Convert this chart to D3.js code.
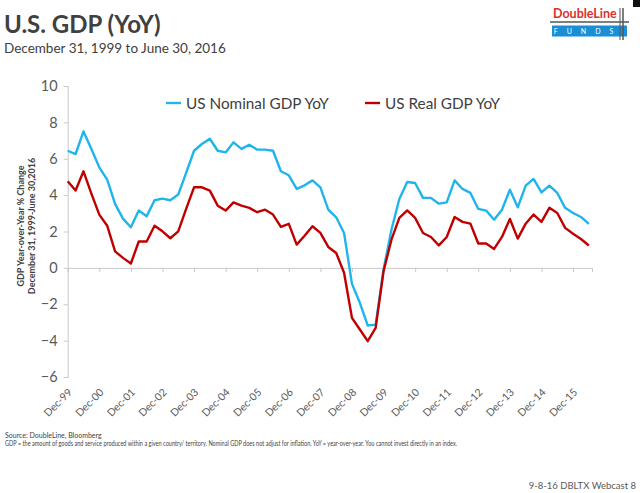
<!DOCTYPE html>
<html><head><meta charset="utf-8">
<script src="https://cdn.jsdelivr.net/npm/d3@7/dist/d3.min.js"></script>
<style>body{margin:0;background:#fff}svg{display:block}</style>
</head><body><svg id="c" width="640" height="493"></svg>
<script>
const yearLabels = ["Dec-99","Dec-00","Dec-01","Dec-02","Dec-03","Dec-04","Dec-05","Dec-06","Dec-07","Dec-08","Dec-09","Dec-10","Dec-11","Dec-12","Dec-13","Dec-14","Dec-15"];
const yTicks = [-6,-4,-2,0,2,4,6,8,10];
// quarterly, Dec-1999 .. Jun-2016
const nominal = [6.44,6.26,7.50,6.54,5.53,4.85,3.52,2.71,2.23,3.15,2.84,3.72,3.81,3.72,4.03,5.22,
  6.44,6.81,7.10,6.44,6.35,6.90,6.54,6.77,6.50,6.50,6.44,5.31,5.09,4.34,4.54,4.81,4.43,3.20,2.78,1.92,
  -0.88,-1.92,-3.17,-3.12,-0.09,2.10,3.79,4.72,4.67,3.85,3.85,3.53,3.60,4.81,4.34,4.12,3.24,3.15,2.65,3.20,
  4.30,3.33,4.52,4.89,4.15,4.52,4.12,3.30,3.02,2.80,2.42];
const real = [4.76,4.25,5.31,4.08,2.93,2.32,0.91,0.55,0.24,1.45,1.45,2.32,2.01,1.63,2.01,3.24,
  4.43,4.43,4.25,3.42,3.15,3.60,3.42,3.30,3.06,3.20,2.93,2.25,2.42,1.28,1.77,2.29,1.92,1.15,0.82,-0.27,
  -2.75,-3.39,-4.03,-3.30,-0.19,1.55,2.75,3.16,2.75,1.92,1.70,1.24,1.70,2.80,2.53,2.43,1.34,1.34,1.04,1.70,
  2.69,1.61,2.43,2.93,2.53,3.30,3.02,2.20,1.88,1.59,1.23];
const seriesNames = ["US Nominal GDP YoY","US Real GDP YoY"];
const colors = ["#1fb4ec","#c00000"];

const svg = d3.select("#c");
const font = "Lato, 'Open Sans', sans-serif";
const x = d3.scaleLinear().domain([0, 66.4]).range([67.7, 592]);
const y = d3.scaleLinear().domain([-6, 10]).range([377, 86]);

// title
svg.append("text").attr("x",4).attr("y",33).attr("font-family",font).attr("font-weight","bold")
  .attr("font-size",24).attr("fill","#404040").text("U.S. GDP (YoY)");
svg.append("text").attr("x",4).attr("y",53).attr("font-family",font)
  .attr("font-size",13.5).attr("fill","#404040").text("December 31, 1999 to June 30, 2016");

// logo
const lg = svg.append("g");
lg.append("rect").attr("x",552).attr("y",25.5).attr("width",75).attr("height",11).attr("fill","#1b8fd6");
lg.append("text").attr("x",588).attr("y",34).attr("text-anchor","middle").attr("font-family",font)
  .attr("font-size",7).attr("fill","#fff").attr("letter-spacing",9).text("FUNDS");
lg.append("text").attr("x",553).attr("y",18).attr("font-family",font).attr("font-weight","bold")
  .attr("font-size",12.5).attr("fill","#d9312b").text("DoubleLine");
lg.append("line").attr("x1",550).attr("x2",629).attr("y1",22).attr("y2",22).attr("stroke","#555").attr("stroke-width",1.5);
lg.append("line").attr("x1",623).attr("x2",623).attr("y1",8).attr("y2",40).attr("stroke","#555").attr("stroke-width",1.5);
lg.append("line").attr("x1",620).attr("x2",620).attr("y1",8).attr("y2",40).attr("stroke","#555").attr("stroke-width",1);
lg.append("rect").attr("x",633).attr("y",0).attr("width",7).attr("height",7).attr("fill","#111");

// axes
const axColor = "#c8c8c8";
const yAxis = svg.append("g").attr("transform","translate(67.7,0)")
  .call(d3.axisLeft(y).tickValues(yTicks).tickSize(4).tickFormat(d3.format("d")));
yAxis.select(".domain").attr("stroke",axColor);
yAxis.selectAll(".tick line").attr("stroke",axColor);
yAxis.selectAll("text").attr("font-family",font).attr("font-size",14.5).attr("fill","#595959").attr("x",-10);

const xTickVals = yearLabels.map((d,i)=>i*4);
const xAxis = svg.append("g").attr("transform",`translate(0,${y(0)})`)
  .call(d3.axisBottom(x).tickValues(xTickVals).tickSize(4).tickFormat(""));
xAxis.select(".domain").attr("stroke",axColor);
xAxis.selectAll(".tick line").attr("stroke",axColor);

// x labels rotated
svg.append("g").selectAll("text").data(yearLabels).join("text")
  .attr("transform",(d,i)=>`translate(${x(i*4)+5},${393}) rotate(-45)`)
  .attr("text-anchor","end").attr("font-family",font).attr("font-size",10.5).attr("fill","#595959")
  .text(d=>d);

// y title
const yt = svg.append("text").attr("transform","translate(23.5,226) rotate(-90)")
  .attr("text-anchor","middle").attr("font-family",font).attr("font-size",9).attr("font-weight","bold").attr("fill","#404040");
yt.append("tspan").attr("x",0).attr("dy",0).text("GDP Year-over-Year % Change");
yt.append("tspan").attr("x",0).attr("dy",11).text("December 31,  1999-June 30,2016");

// lines
const line = d3.line().x((d,i)=>x(i)).y(d=>y(d));
[nominal, real].forEach((s,k)=>{
  svg.append("path").datum(s).attr("d",line).attr("fill","none")
    .attr("stroke",colors[k]).attr("stroke-width",2.4).attr("stroke-linejoin","round");
});

// legend
const legX = [166, 365];
seriesNames.forEach((n,k)=>{
  svg.append("line").attr("x1",legX[k]).attr("x2",legX[k]+15).attr("y1",103).attr("y2",103)
    .attr("stroke",colors[k]).attr("stroke-width",2.4);
  svg.append("text").attr("x",legX[k]+20).attr("y",108.5).attr("font-family",font)
    .attr("font-size",15.3).attr("fill","#404040").text(n);
});

// footer
svg.append("text").attr("x",5).attr("y",438).attr("font-family",font).attr("font-size",7).attr("fill","#404040")
  .text("Source: DoubleLine, Bloomberg");
svg.append("text").attr("x",5).attr("y",446).attr("font-family",font).attr("font-size",7).attr("fill","#404040")
  .attr("textLength",452).attr("lengthAdjust","spacingAndGlyphs")
  .text("GDP = the amount of goods and service produced within a given country/ territory. Nominal GDP does not adjust for inflation. YoY = year-over-year. You cannot invest directly in  an  index.");
svg.append("text").attr("x",636).attr("y",489).attr("text-anchor","end").attr("font-family",font)
  .attr("font-size",9.5).attr("fill","#595959").text("9-8-16 DBLTX Webcast 8");
</script></body></html>
